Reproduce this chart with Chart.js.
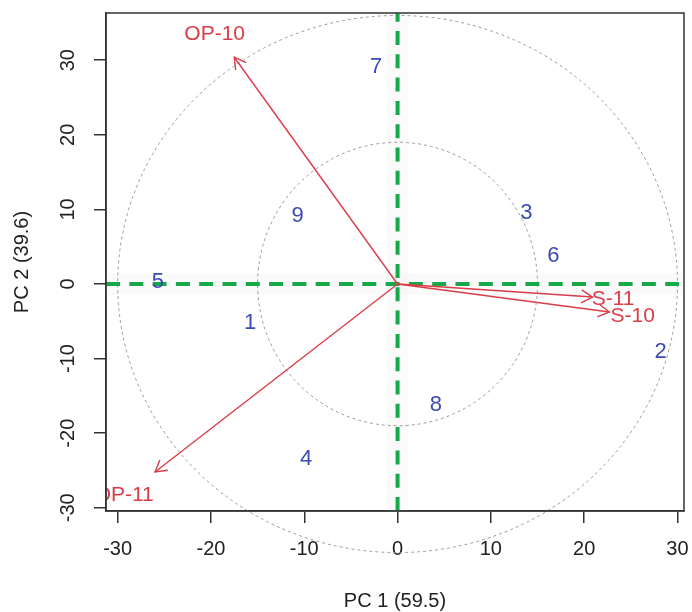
<!DOCTYPE html>
<html>
<head>
<meta charset="utf-8">
<script src="https://cdn.jsdelivr.net/npm/chart.js@4.4.0/dist/chart.umd.min.js"></script>
<style>
  html, body { margin: 0; padding: 0; background: #fff; }
  #wrap { width: 692px; height: 612px; position: relative; }
</style>
</head>
<body>
<div id="wrap"><canvas id="biplot"></canvas></div>
<script>
// biplot PCA: observaciones (azul) + variables (flechas rojas), circulos de referencia

const xTicks = [-30, -20, -10, 0, 10, 20, 30];
const yTicks = [-30, -20, -10, 0, 10, 20, 30];

const obsLabels = ['1', '2', '3', '4', '5', '6', '7', '8', '9'];
const obsX = [-15.8, 28.2, 13.8, -9.8, -25.7, 16.7, -2.3, 4.1, -10.7];
const obsY = [-5.2, -9.1, 9.5, -23.5, 0.3, 3.7, 29.1, -16.2, 9.1];

const varLabels = ['OP-10', 'OP-11', 'S-11', 'S-10'];
const varX = [-17.5, -26.0, 20.9, 22.7];
const varY = [30.4, -25.2, -1.75, -3.75];
const varTextX = [-19.6, -29.3, 23.1, 25.2];
const varTextY = [33.5, -28.3, -2.1, -4.3];

const circleRx = [15, 30];
const circleRy = [19, 36];

const FONT  = "'Liberation Sans', Arial, sans-serif";
const RED   = '#dc3c48';
const BLUE  = '#3c4ab6';
const GREEN = '#17a84a';
const AXIS  = '#333333';
const TEXT  = '#222222';

const biplotDecor = {
    id: 'biplotDecor',
    beforeDatasetsDraw(chart) {
        const { ctx, chartArea: a, scales: { x, y } } = chart;
        const x0 = x.getPixelForValue(0);
        const y0 = y.getPixelForValue(0);
        ctx.save();

        // franja clara detras de los ejes verdes
        ctx.fillStyle = 'rgba(228,234,226,0.22)';
        ctx.fillRect(a.left, y0 - 11, a.right - a.left, 22);
        ctx.fillRect(x0 - 11, a.top, 22, a.bottom - a.top);

        // circulos punteados
        ctx.strokeStyle = '#9a9a9a';
        ctx.lineWidth = 1;
        ctx.setLineDash([3, 3]);
        circleRx.forEach((r, i) => {
            const rx = x.getPixelForValue(r) - x0;
            const ry = y0 - y.getPixelForValue(circleRy[i]);
            ctx.beginPath();
            ctx.ellipse(x0, y0, rx, ry, 0, 0, Math.PI * 2);
            ctx.stroke();
        });

        // ejes verdes discontinuos
        ctx.strokeStyle = GREEN;
        ctx.lineWidth = 4;
        ctx.setLineDash([14, 9.3]);
        ctx.beginPath();
        ctx.moveTo(a.left, y0);
        ctx.lineTo(a.right, y0);
        ctx.stroke();
        ctx.beginPath();
        ctx.moveTo(x0, a.bottom);
        ctx.lineTo(x0, a.top);
        ctx.stroke();
        ctx.restore();
    },
    afterDatasetsDraw(chart) {
        const { ctx, chartArea: a, scales: { x, y } } = chart;
        ctx.save();

        // puntas de flecha
        ctx.strokeStyle = RED;
        ctx.lineWidth = 1.4;
        varLabels.forEach((_, i) => {
            const meta = chart.getDatasetMeta(i + 1);
            const p0 = meta.data[0], p1 = meta.data[1];
            const ang = Math.atan2(p1.y - p0.y, p1.x - p0.x);
            const len = 13;
            ctx.beginPath();
            ctx.moveTo(p1.x - len * Math.cos(ang - Math.PI / 6), p1.y - len * Math.sin(ang - Math.PI / 6));
            ctx.lineTo(p1.x, p1.y);
            ctx.lineTo(p1.x - len * Math.cos(ang + Math.PI / 6), p1.y - len * Math.sin(ang + Math.PI / 6));
            ctx.stroke();
        });

        // etiquetas, recortadas a la region del grafico
        ctx.beginPath();
        ctx.rect(a.left, a.top, a.right - a.left, a.bottom - a.top);
        ctx.clip();
        ctx.textAlign = 'center';
        ctx.textBaseline = 'middle';

        ctx.fillStyle = RED;
        ctx.font = `21px ${FONT}`;
        varLabels.forEach((lab, i) => {
            ctx.fillText(lab, x.getPixelForValue(varTextX[i]), y.getPixelForValue(varTextY[i]));
        });

        ctx.fillStyle = BLUE;
        ctx.font = `22px ${FONT}`;
        const obsMeta = chart.getDatasetMeta(0);
        obsMeta.data.forEach((pt, i) => ctx.fillText(obsLabels[i], pt.x, pt.y));
        ctx.restore();
    },
    afterDraw(chart) {
        const { ctx, chartArea: a, scales: { y } } = chart;
        ctx.save();
        ctx.strokeStyle = AXIS;
        ctx.lineWidth = 1.5;
        ctx.strokeRect(a.left, a.top, a.right - a.left, a.bottom - a.top);

        // etiquetas del eje Y giradas (estilo R)
        ctx.fillStyle = TEXT;
        ctx.font = `20px ${FONT}`;
        ctx.textAlign = 'center';
        ctx.textBaseline = 'middle';
        yTicks.forEach(v => {
            ctx.save();
            ctx.translate(68, y.getPixelForValue(v));
            ctx.rotate(-Math.PI / 2);
            ctx.fillText(String(v), 0, 0);
            ctx.restore();
        });
        ctx.restore();
    }
};

const axisGrid   = { drawOnChartArea: false, drawTicks: true, tickLength: 12, color: AXIS, lineWidth: 1.5 };
const axisBorder = { display: true, color: AXIS, width: 1.5 };

new Chart(document.getElementById('biplot'), {
    type: 'scatter',
    data: {
        datasets: [
            {
                type: 'scatter',
                label: 'obs',
                data: obsX.map((v, i) => ({ x: v, y: obsY[i] })),
                pointRadius: 0,
                pointHoverRadius: 0
            },
            ...varLabels.map((lab, i) => ({
                type: 'line',
                label: lab,
                data: [{ x: 0, y: 0 }, { x: varX[i], y: varY[i] }],
                borderColor: RED,
                borderWidth: 1.4,
                pointRadius: 0,
                fill: false,
                tension: 0
            }))
        ]
    },
    options: {
        responsive: true,
        maintainAspectRatio: false,
        animation: false,
        layout: { padding: { left: 0, top: 13, right: 8, bottom: 0 } },
        plugins: { legend: { display: false }, tooltip: { enabled: false } },
        scales: {
            x: {
                type: 'linear',
                position: 'bottom',
                min: -31.25,
                max: 30.7,
                afterBuildTicks: s => { s.ticks = xTicks.map(v => ({ value: v })); },
                afterFit: s => { s.height = 101; s.paddingLeft = 0; s.paddingRight = 0; },
                grid: axisGrid,
                border: axisBorder,
                ticks: { color: TEXT, font: { family: FONT, size: 20 }, padding: 14, maxRotation: 0 },
                title: {
                    display: true, text: 'PC 1 (59.5)', color: TEXT,
                    font: { family: FONT, size: 20, lineHeight: 1 }, padding: { top: 0, bottom: 1 }
                }
            },
            y: {
                type: 'linear',
                position: 'left',
                min: -30.43,
                max: 36.33,
                afterBuildTicks: s => { s.ticks = yTicks.map(v => ({ value: v })); },
                afterFit: s => { s.width = 106; s.paddingTop = 0; s.paddingBottom = 0; },
                grid: axisGrid,
                border: axisBorder,
                ticks: { display: false },
                title: {
                    display: true, text: 'PC 2 (39.6)', color: TEXT,
                    font: { family: FONT, size: 20, lineHeight: 1 }, padding: { top: 12, bottom: 0 }
                }
            }
        }
    },
    plugins: [biplotDecor]
});
</script>
</body>
</html>
